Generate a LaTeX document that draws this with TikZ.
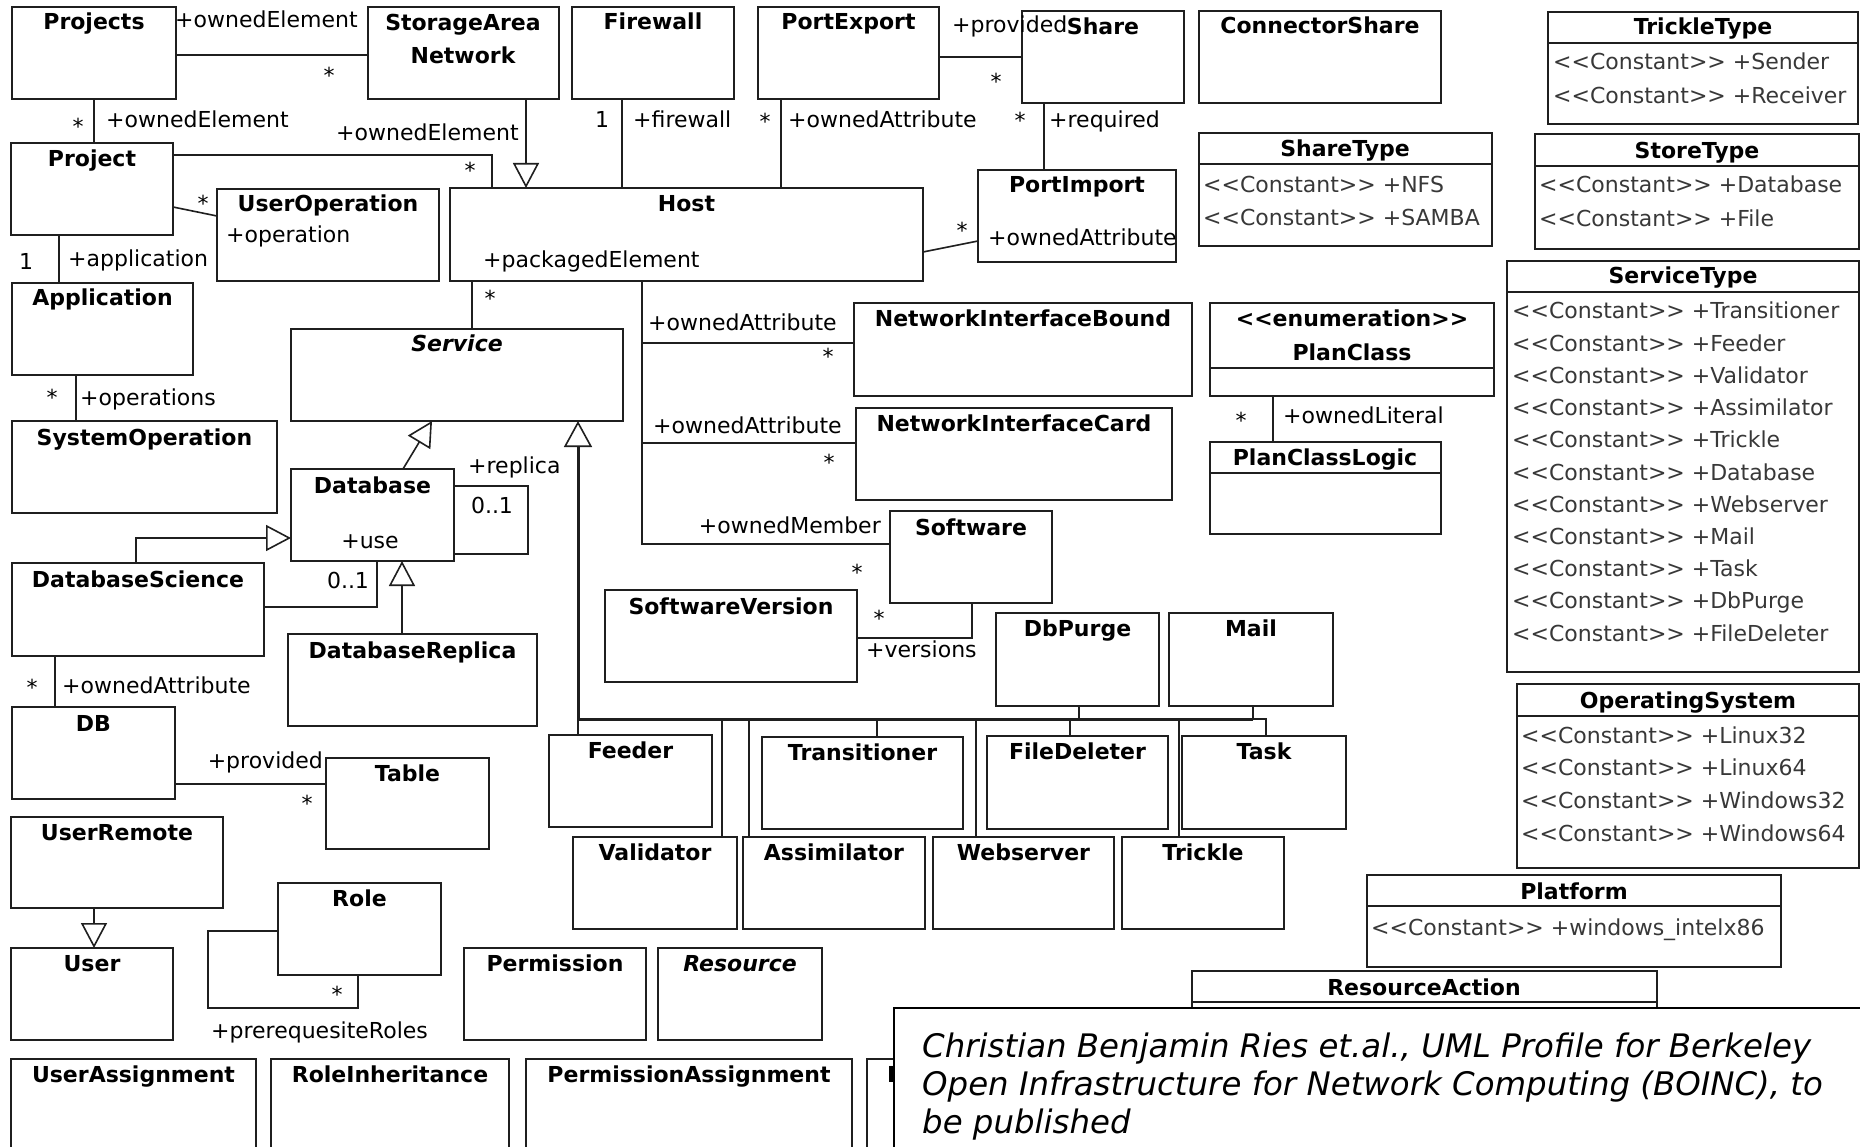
\documentclass[tikz,border=0pt]{standalone}
\usepackage{fontspec}
\setmainfont{DejaVu Sans}
\usetikzlibrary{arrows.meta}

% class box: name, x1, y1, x2, y2 (pixel-like units, y grows downwards)
\newcommand\umlbox[5]{%
  \node[cls, minimum width={(#4)-(#2)}, minimum height={(#5)-(#3)}] (#1) at (#2,#3) {};}
% bold title, baseline #3 below the top edge
\newcommand\umltitle[3]{\node[ttl] (#1-t) at ([yshift=-#3pt]#1.north) {#2};}
% compartment divider at absolute y
\newcommand\umldiv[2]{\draw[divl] (#1.west |- 0,#2) -- (#1.east |- 0,#2);}
% enumeration literal
\newcommand\cst[1]{<\kern0pt<Constant>\kern0pt> +#1}

\begin{document}
\begin{tikzpicture}[x=1pt,y=-1pt,
  cls/.style={draw=black!88, line width=1.6pt, fill=white, anchor=north west, outer sep=0pt, inner sep=0pt},
  ttl/.style={font=\fontsize{22}{26}\selectfont\bfseries, anchor=base, inner sep=0pt},
  attr/.style={font=\fontsize{22}{26}\selectfont, anchor=base west, inner sep=0pt},
  lit/.style={attr, text=black!78},
  mul/.style={font=\fontsize{22}{26}\selectfont, anchor=base, inner sep=0pt},
  conn/.style={line width=1.6pt, draw=black!88},
  gen/.style={conn, -{Triangle[open, length=25pt, width=26pt, line width=1.6pt]}},
  divl/.style={line width=1.6pt, draw=black!88},
  citetext/.style={font=\fontsize{32.4}{38}\selectfont\itshape, anchor=base west, inner sep=0pt}]

\useasboundingbox (0,0) rectangle (1860,1147);
\clip (0,0) rectangle (1860,1147);
\fill[white] (0,0) rectangle (1860,1147);

% ---------- classes ----------
\umlbox{projects}{12}{7}{176}{99}        \umltitle{projects}{Projects}{23}
\umlbox{san}{368}{7}{559}{99}
\node[ttl] (san-t1) at (463,31) {StorageArea};
\node[ttl] (san-t2) at (463,64) {Network};
\umlbox{firewall}{572}{7}{734}{99}       \umltitle{firewall}{Firewall}{23}
\umlbox{portexport}{758}{7}{939}{99}     \umltitle{portexport}{PortExport}{23}
\umlbox{share}{1022}{11}{1184}{103}      \umltitle{share}{Share}{24}
\umlbox{connshare}{1199}{11}{1441}{103}  \umltitle{connshare}{ConnectorShare}{23}
\umlbox{project}{11}{143}{173}{235}      \umltitle{project}{Project}{24}
\umlbox{userop}{217}{189}{439}{281}      \umltitle{userop}{UserOperation}{23}
\node[attr] (userop-a) at (226,243) {+operation};
\umlbox{host}{450}{188}{923}{281}        \umltitle{host}{Host}{24}
\node[attr] (host-a) at (483,268) {+packagedElement};
\umlbox{portimport}{978}{170}{1176}{262} \umltitle{portimport}{PortImport}{23}
\node[attr] (portimport-a) at (988,246) {+ownedAttribute};
\umlbox{application}{12}{283}{193}{375}  \umltitle{application}{Application}{23}
\umlbox{service}{291}{329}{623}{421}
\node[ttl, font=\fontsize{22}{26}\selectfont\bfseries\itshape] (service-t) at ([yshift=-23pt]service.north) {Service};
\umlbox{nib}{854}{303}{1192}{396}        \umltitle{nib}{NetworkInterfaceBound}{24}
\umlbox{nic}{856}{408}{1172}{500}        \umltitle{nic}{NetworkInterfaceCard}{23}
\umlbox{systemop}{12}{421}{277}{513}     \umltitle{systemop}{SystemOperation}{24}
\umlbox{database}{291}{469}{454}{561}    \umltitle{database}{Database}{24}
\node[mul] (database-a) at (370,548) {+use};
\umlbox{software}{890}{511}{1052}{603}   \umltitle{software}{Software}{24}
\umlbox{dbsci}{12}{563}{264}{656}        \umltitle{dbsci}{DatabaseScience}{24}
\umlbox{swversion}{605}{590}{857}{682}   \umltitle{swversion}{SoftwareVersion}{24}
\umlbox{dbpurge}{996}{613}{1159}{706}    \umltitle{dbpurge}{DbPurge}{23}
\umlbox{mail}{1169}{613}{1333}{706}      \umltitle{mail}{Mail}{23}
\umlbox{dbreplica}{288}{634}{537}{726}   \umltitle{dbreplica}{DatabaseReplica}{24}
\umlbox{db}{12}{707}{175}{799}           \umltitle{db}{DB}{24}
\umlbox{feeder}{549}{735}{712}{827}      \umltitle{feeder}{Feeder}{23}
\umlbox{transitioner}{762}{737}{963}{829} \umltitle{transitioner}{Transitioner}{23}
\umlbox{filedeleter}{987}{736}{1168}{829} \umltitle{filedeleter}{FileDeleter}{23}
\umlbox{task}{1182}{736}{1346}{829}      \umltitle{task}{Task}{23}
\umlbox{table}{326}{758}{489}{849}       \umltitle{table}{Table}{23}
\umlbox{userremote}{11}{817}{223}{908}   \umltitle{userremote}{UserRemote}{23}
\umlbox{validator}{573}{837}{737}{929}   \umltitle{validator}{Validator}{23}
\umlbox{assimilator}{743}{837}{925}{929} \umltitle{assimilator}{Assimilator}{23}
\umlbox{webserver}{933}{837}{1114}{929}  \umltitle{webserver}{Webserver}{23}
\umlbox{trickle}{1122}{837}{1284}{929}   \umltitle{trickle}{Trickle}{23}
\umlbox{role}{278}{883}{441}{975}        \umltitle{role}{Role}{23}
\umlbox{user}{11}{948}{173}{1040}        \umltitle{user}{User}{23}
\umlbox{permission}{464}{948}{646}{1040} \umltitle{permission}{Permission}{23}
\umlbox{resource}{658}{948}{822}{1040}
\node[ttl, font=\fontsize{22}{26}\selectfont\bfseries\itshape] (resource-t) at ([yshift=-23pt]resource.north) {Resource};
\umlbox{userassign}{11}{1059}{256}{1170}  \umltitle{userassign}{UserAssignment}{23}
\umlbox{roleinh}{271}{1059}{509}{1170}    \umltitle{roleinh}{RoleInheritance}{23}
\umlbox{permassign}{526}{1059}{852}{1170} \umltitle{permassign}{PermissionAssignment}{23}
\umlbox{rbox}{867}{1059}{1010}{1170}
\node[attr, font=\fontsize{22}{26}\selectfont\bfseries] (rbox-t) at (887,1082) {R};

% ---------- enumerations ----------
\umlbox{trickletype}{1548}{12}{1858}{124}
\node[ttl] (trickletype-t) at (1703,35) {TrickleType};
\umldiv{trickletype}{43}
\node[lit] (tt1) at (1553,70) {\cst{Sender}};
\node[lit] (tt2) at (1553,104) {\cst{Receiver}};

\umlbox{sharetype}{1199}{133}{1492}{246}
\node[ttl] (sharetype-t) at (1345,157) {ShareType};
\umldiv{sharetype}{164}
\node[lit] (sh1) at (1203,193) {\cst{NFS}};
\node[lit] (sh2) at (1203,226) {\cst{SAMBA}};

\umlbox{storetype}{1535}{134}{1859}{249}
\node[ttl] (storetype-t) at (1697,159) {StoreType};
\umldiv{storetype}{166}
\node[lit] (st1) at (1539,193) {\cst{Database}};
\node[lit] (st2) at (1539,227) {\cst{File}};

\umlbox{servicetype}{1507}{261}{1859}{672}
\node[ttl] (servicetype-t) at (1683,284) {ServiceType};
\umldiv{servicetype}{292}
\foreach \lt [count=\i from 0] in {Transitioner,Feeder,Validator,Assimilator,Trickle,Database,Webserver,Mail,Task,DbPurge,FileDeleter}
  \node[lit] (sv\i) at (1512,319+32.2*\i) {\cst{\lt}};

\umlbox{planclass}{1210}{303}{1494}{396}
\node[ttl] (planclass-t1) at (1352,327) {<\kern0pt<enumeration>\kern0pt>};
\node[ttl] (planclass-t2) at (1352,360) {PlanClass};
\umldiv{planclass}{368}

\umlbox{pclogic}{1210}{442}{1441}{534}
\node[ttl] (pclogic-t) at (1325,465) {PlanClassLogic};
\umldiv{pclogic}{473}

\umlbox{os}{1517}{684}{1859}{868}
\node[ttl] (os-t) at (1688,708) {OperatingSystem};
\umldiv{os}{716}
\foreach \lt [count=\i from 0] in {Linux32,Linux64,Windows32,Windows64}
  \node[lit] (os\i) at (1521,743+32.7*\i) {\cst{\lt}};

\umlbox{platform}{1367}{875}{1781}{967}
\node[ttl] (platform-t) at (1574,899) {Platform};
\umldiv{platform}{906}
\node[lit] (pf1) at (1371,935) {\cst{windows\_intelx86}};

\umlbox{resaction}{1192}{971}{1657}{1030}
\node[ttl] (resaction-t) at (1424,995) {ResourceAction};
\umldiv{resaction}{1002}

% ---------- associations ----------
\draw[conn] (projects.east |- 0,55) -- (san.west |- 0,55);
\draw[conn] (projects.south -| 94,0) -- (project.north -| 94,0);
\draw[conn] (project.east |- 0,155) -| (host.north -| 492,0);
\draw[conn] (project.east |- 0,207) -- (userop.west |- 0,216);
\draw[conn] (project.south -| 59,0) -- (application.north -| 59,0);
\draw[conn] (application.south -| 76,0) -- (systemop.north -| 76,0);
\draw[conn] (firewall.south -| 622,0) -- (host.north -| 622,0);
\draw[conn] (portexport.south -| 781,0) -- (host.north -| 781,0);
\draw[conn] (portexport.east |- 0,57) -- (share.west |- 0,57);
\draw[conn] (share.south -| 1044,0) -- (portimport.north -| 1044,0);
\draw[conn] (host.east |- 0,252) -- (portimport.west |- 0,241);
\draw[conn] (host.south -| 472,0) -- (service.north -| 472,0);
\draw[conn] (host.south -| 642,0) |- (nib.west |- 0,343);
\draw[conn] (host.south -| 642,0) |- (nic.west |- 0,443);
\draw[conn] (host.south -| 642,0) |- (software.west |- 0,544);
\draw[conn, line width=2.8pt] (host.south -| 642,0) -- (nib.west -| 642,0);
\draw[conn] (swversion.east |- 0,638) -| (software.south -| 972,0);
\draw[conn] (planclass.south -| 1273,0) -- (pclogic.north -| 1273,0);
\draw[conn] (dbsci.east |- 0,607) -| (database.south -| 377,0);
\draw[conn] (database.east |- 0,486) -| (528,520) |- (database.east |- 0,554);
\draw[conn] (dbsci.south -| 55,0) -- (db.north -| 55,0);
\draw[conn] (db.east |- 0,784) -- (table.west |- 0,784);
\draw[conn] (role.west |- 0,931) -| (208,1008) -| (role.south -| 358,0);

% ---------- generalizations ----------
\draw[gen] (san.south -| 526,0) -- (host.north -| 526,0);
\draw[gen] (database.north -| 403,0) -- (service.south -| 432,0);
\draw[gen] (dbsci.north -| 136,0) |- (database.west |- 0,538);
\draw[gen] (dbreplica.north -| 402,0) -- (database.south -| 402,0);
\draw[gen] (userremote.south -| 94,0) -- (user.north -| 94,0);

\coordinate (bus) at (578,719);
\coordinate (busend) at (1253,719);
\draw[conn] (feeder.north -| bus) -- (bus);
\draw[conn] (validator.north -| 722,0) |- (bus);
\draw[conn] (assimilator.north -| 749,0) |- (bus);
\draw[conn] (transitioner.north -| 877,0) |- (bus);
\draw[conn] (webserver.north -| 976,0) |- (bus);
\draw[conn] (filedeleter.north -| 1070,0) |- (bus);
\draw[conn] (dbpurge.south -| 1079,0) |- (bus);
\draw[conn] (trickle.north -| 1179,0) |- (bus);
\draw[conn] (mail.south -| busend) -- (busend);
\draw[conn] (task.north -| 1266,0) |- (busend);
\draw[conn, line width=3pt, -{Triangle[open, length=26pt, width=28pt, line width=1.6pt]}]
  (busend) -- (bus) -- (service.south -| bus);

% ---------- role names and multiplicities ----------
\node[attr] (l1) at (175,28) {+ownedElement};
\node[mul] (m1) at (329,84) {*};
\node[mul] (m2) at (78,135) {*};
\node[attr] (l2) at (106,128) {+ownedElement};
\node[attr] (l3) at (336,141) {+ownedElement};
\node[mul] (m3) at (470,179) {*};
\node[mul] (m4) at (203,212) {*};
\node[mul] (m5) at (26,270) {1};
\node[attr] (l4) at (68,267) {+application};
\node[mul] (m6) at (52,405) {*};
\node[attr] (l5) at (80,405) {+operations};
\node[mul] (m7) at (602,128) {1};
\node[attr] (l6) at (633,128) {+firewall};
\node[mul] (m8) at (765,130) {*};
\node[attr] (l7) at (788,128) {+ownedAttribute};
\node[attr] (l8) at (952,33) {+provided};
\node[mul] (m9) at (996,90) {*};
\node[mul] (m10) at (1020,129) {*};
\node[attr] (l9) at (1049,128) {+required};
\node[mul] (m11) at (962,239) {*};
\node[mul] (m12) at (490,307) {*};
\node[attr] (l10) at (648,331) {+ownedAttribute};
\node[mul] (m13) at (828,365) {*};
\node[attr] (l11) at (653,433) {+ownedAttribute};
\node[mul] (m14) at (829,470) {*};
\node[attr, anchor=base east] (l12) at (881,533) {+ownedMember};
\node[mul] (m15) at (857,580) {*};
\node[mul] (m16) at (879,626) {*};
\node[attr] (l13) at (866,657) {+versions};
\node[mul] (m17) at (1241,428) {*};
\node[attr] (l14) at (1283,423) {+ownedLiteral};
\node[attr] (l15) at (468,473) {+replica};
\node[mul] (m18) at (492,513) {0..1};
\node[mul] (m19) at (348,588) {0..1};
\node[mul] (m20) at (32,695) {*};
\node[attr] (l16) at (62,693) {+ownedAttribute};
\node[attr, anchor=base east] (l17) at (323,768) {+provided};
\node[mul] (m21) at (307,811) {*};
\node[mul] (m22) at (337,1002) {*};
\node[attr] (l18) at (211,1038) {+prerequesiteRoles};

% ---------- citation ----------
\node[cls, draw=black, line width=1.2pt, minimum width=1000, minimum height=200] (citebox) at (894,1008) {};
\node[citetext] (c1) at (922,1057) {Christian Benjamin Ries et.al., UML Profile for Berkeley};
\node[citetext] (c2) at (922,1095) {Open Infrastructure for Network Computing (BOINC), to};
\node[citetext] (c3) at (922,1133) {be published};
\end{tikzpicture}
\end{document}
